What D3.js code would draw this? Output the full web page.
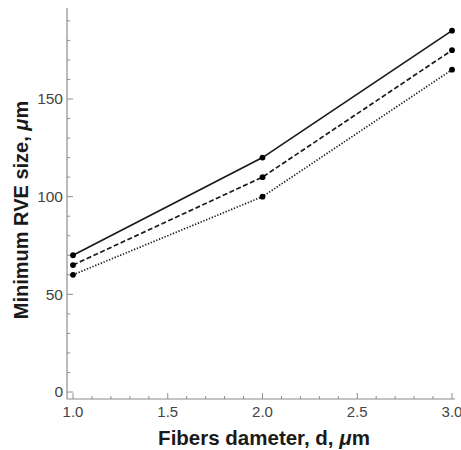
<!DOCTYPE html>
<html lang="en">
<head>
<meta charset="UTF-8">
<title>Minimum RVE size</title>
<script src="https://cdn.jsdelivr.net/npm/d3@7"></script>
<style>
  body { margin: 0; background: #fff; }
  text { font-family: "Liberation Sans", Arial, sans-serif; }
</style>
</head>
<body>
<svg width="461" height="450"></svg>
<script>
// data
var diameters = [1.0, 2.0, 3.0];
var rveSolid  = [70, 120, 185];
var rveDashed = [65, 110, 175];
var rveDotted = [60, 100, 165];
var xTicks = [1.0, 1.5, 2.0, 2.5, 3.0];
var yTicks = [0, 50, 100, 150];

var svg = d3.select("svg");

var x = d3.scaleLinear().domain([1, 3]).range([73, 452]);
var y = d3.scaleLinear().domain([0, 150]).range([392, 99]);

var axisColor = "#8c8c8c";
var baseY = 399;

// y axis (frame line from bottom to top)
var yAxis = svg.append("g").attr("transform", "translate(67,0)");
yAxis.append("line").attr("x1", 0).attr("x2", 0).attr("y1", baseY).attr("y2", 8)
    .attr("stroke", axisColor).attr("stroke-width", 1.2);
yAxis.selectAll(".minor").data(d3.range(0, 200, 10)).enter().append("line")
    .attr("x1", 0).attr("x2", function (d) { return d % 50 === 0 ? 6 : 3; })
    .attr("y1", function (d) { return y(d); }).attr("y2", function (d) { return y(d); })
    .attr("stroke", axisColor).attr("stroke-width", 1);
yAxis.selectAll(".lbl").data(yTicks).enter().append("text")
    .attr("x", -4).attr("y", function (d) { return y(d); })
    .attr("dy", "0.35em").attr("text-anchor", "end")
    .attr("font-size", 15.5).attr("fill", "#444")
    .text(function (d) { return d; });

// x axis
var xAxis = svg.append("g").attr("transform", "translate(0," + baseY + ")");
xAxis.append("line").attr("x1", 67).attr("x2", 455).attr("y1", 0).attr("y2", 0)
    .attr("stroke", axisColor).attr("stroke-width", 1.2);
xAxis.selectAll(".minor").data(d3.range(10, 31).map(function (d) { return d / 10; })).enter().append("line")
    .attr("x1", function (d) { return x(d); }).attr("x2", function (d) { return x(d); })
    .attr("y1", 0).attr("y2", function (d) { return Math.round(d * 10) % 5 === 0 ? -6 : -3; })
    .attr("stroke", axisColor).attr("stroke-width", 1);
xAxis.selectAll(".lbl").data(xTicks).enter().append("text")
    .attr("x", function (d) { return x(d); }).attr("y", 18)
    .attr("text-anchor", "middle")
    .attr("font-size", 15).attr("fill", "#444")
    .text(function (d) { return d.toFixed(1); });

// axis titles
var xt = svg.append("text").attr("x", 264).attr("y", 445)
    .attr("text-anchor", "middle").attr("font-size", 20.5).attr("font-weight", "bold").attr("fill", "#1a1a1a");
xt.append("tspan").text("Fibers dameter, d, ");
xt.append("tspan").attr("font-style", "italic").text("μ");
xt.append("tspan").text("m");

var yt = svg.append("text").attr("transform", "translate(27.5,210) rotate(-90)")
    .attr("text-anchor", "middle").attr("font-size", 20).attr("font-weight", "bold").attr("fill", "#1a1a1a");
yt.append("tspan").text("Minimum  RVE size, ");
yt.append("tspan").attr("font-style", "italic").text("μ");
yt.append("tspan").text("m");

// series
var series = [
  { values: rveSolid,  dash: null },
  { values: rveDashed, dash: "5,2.5" },
  { values: rveDotted, dash: "1.3,1.7" }
];

var line = d3.line()
    .x(function (d) { return x(d[0]); })
    .y(function (d) { return y(d[1]); });

series.forEach(function (s) {
  var pts = d3.zip(diameters, s.values);
  svg.append("path").datum(pts).attr("d", line)
      .attr("fill", "none").attr("stroke", "#1a1a1a").attr("stroke-width", 1.7)
      .attr("stroke-dasharray", s.dash);
  svg.selectAll(null).data(pts).enter().append("circle")
      .attr("cx", function (d) { return x(d[0]); })
      .attr("cy", function (d) { return y(d[1]); })
      .attr("r", 2.9).attr("fill", "#000");
});
</script>
</body>
</html>
